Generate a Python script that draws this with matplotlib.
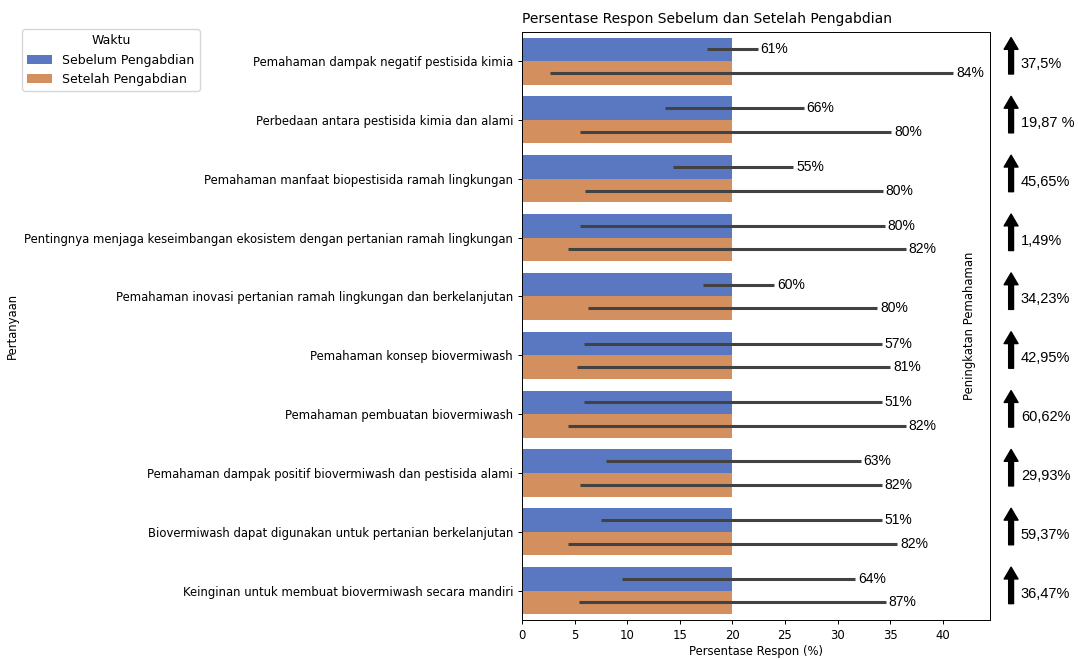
import numpy as np
import pandas as pd
import matplotlib
matplotlib.use("Agg")
import matplotlib.pyplot as plt
import seaborn as sns

# Questions (top to bottom)
pertanyaan = [
    "Pemahaman dampak negatif pestisida kimia",
    "Perbedaan antara pestisida kimia dan alami",
    "Pemahaman manfaat biopestisida ramah lingkungan",
    "Pentingnya menjaga keseimbangan ekosistem dengan pertanian ramah lingkungan",
    "Pemahaman inovasi pertanian ramah lingkungan dan berkelanjutan",
    "Pemahaman konsep biovermiwash",
    "Pemahaman pembuatan biovermiwash",
    "Pemahaman dampak positif biovermiwash dan pestisida alami",
    "Biovermiwash dapat digunakan untuk pertanian berkelanjutan",
    "Keinginan untuk membuat biovermiwash secara mandiri",
]
waktu = ["Sebelum Pengabdian", "Setelah Pengabdian"]

# bar lengths (mean response share, %)
rata_sebelum = [20] * 10
rata_setelah = [20] * 10

# error bar extents
err_lo_sebelum = [17.6, 13.6, 14.4, 5.5, 17.2, 5.9, 5.9, 8.0, 7.5, 9.5]
err_hi_sebelum = [22.4, 26.8, 25.8, 34.5, 24.0, 34.2, 34.2, 32.2, 34.2, 31.7]
err_lo_setelah = [2.7, 5.5, 6.0, 4.4, 6.3, 5.2, 4.4, 5.5, 4.4, 5.4]
err_hi_setelah = [41.0, 35.1, 34.3, 36.5, 33.8, 35.0, 36.5, 34.2, 35.7, 34.6]

# percentages written next to the bars
pct_sebelum = [61, 66, 55, 80, 60, 57, 51, 63, 51, 64]
pct_setelah = [84, 80, 80, 82, 80, 81, 82, 82, 82, 87]

# improvement shown on the right
peningkatan = ["37,5%", "19,87 %", "45,65%", "1,49%", "34,23%",
               "42,95%", "60,62%", "29,93%", "59,37%", "36,47%"]

df = pd.DataFrame({
    "Pertanyaan": pertanyaan * 2,
    "Waktu": [waktu[0]] * 10 + [waktu[1]] * 10,
    "Persentase": rata_sebelum + rata_setelah,
})

fig = plt.figure(figsize=(10.78, 6.59), dpi=100)
ax = fig.add_axes([0.4842, 0.059, 0.9184 - 0.4842, 0.952 - 0.059])

sns.barplot(data=df, y="Pertanyaan", x="Persentase", hue="Waktu",
            palette=["#5a78c2", "#d48f5f"], saturation=1, errorbar=None,
            ax=ax, linewidth=0)

y = np.arange(len(pertanyaan))
groups = [(y - 0.2, err_lo_sebelum, err_hi_sebelum, pct_sebelum),
          (y + 0.2, err_lo_setelah, err_hi_setelah, pct_setelah)]
for yy, lo, hi, pct in groups:
    ax.hlines(yy, lo, hi, color=".26", linewidth=2.2, zorder=3)
    for yi, h, p in zip(yy, hi, pct):
        ax.annotate(f"{p}%", (h, yi), xytext=(2, 0), textcoords="offset points",
                    va="center", ha="left", fontsize=10, family="Liberation Sans")

ax.set_xlim(0, 44.5)
ax.set_ylim(len(pertanyaan) - 0.5, -0.5)
ax.set_xticks(np.arange(0, 41, 5))
ax.tick_params(labelsize=8.4, length=2.9, width=0.7)
for s in ax.spines.values():
    s.set_linewidth(0.7)
ax.set_title("Persentase Respon Sebelum dan Setelah Pengabdian", fontsize=10,
             pad=6, loc="left")
ax.set_xlabel("Persentase Respon (%)", fontsize=8.4, labelpad=2)
ax.set_ylabel("Pertanyaan", fontsize=8.4)

ax.text(0.957, 0.5, "Peningkatan Pemahaman", transform=ax.transAxes,
        rotation=90, va="center", ha="center", fontsize=8.4)

tr = ax.get_yaxis_transform()
for yi, lab in zip(y, peningkatan):
    ax.annotate("", xy=(1.045, yi - 0.4), xytext=(1.045, yi + 0.22),
                xycoords=tr, textcoords=tr, annotation_clip=False,
                arrowprops=dict(arrowstyle="simple,head_length=0.85,head_width=1.0,tail_width=0.35",
                                color="black", shrinkA=0, shrinkB=0, mutation_scale=10))
    ax.text(1.066, yi + 0.05, lab, transform=tr, va="center", ha="left",
            fontsize=10.5, family="Liberation Sans", clip_on=False)

handles, labels = ax.get_legend_handles_labels()
ax.legend(handles, labels, title="Waktu", loc="upper left",
          bbox_to_anchor=(0.015, 0.965), bbox_transform=fig.transFigure,
          fontsize=9, title_fontsize=9)

fig.savefig("out.png", dpi=100)
